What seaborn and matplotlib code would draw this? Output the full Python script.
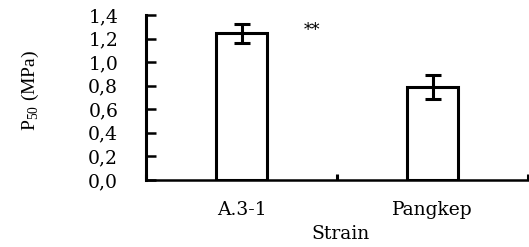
import matplotlib
matplotlib.use("Agg")
import matplotlib.pyplot as plt
import numpy as np
import pandas as pd
import seaborn as sns

# values
strains = ["A.3-1", "Pangkep"]
p50_mean = [1.245, 0.79]
p50_err = [0.082, 0.10]
y_ticks = [0.0, 0.2, 0.4, 0.6, 0.8, 1.0, 1.2, 1.4]
y_tick_labels = ["0,0", "0,2", "0,4", "0,6", "0,8", "1,0", "1,2", "1,4"]
signif = "**"

sns.set_theme(style="white", rc={"text.color": "black", "axes.labelcolor": "black",
                                 "xtick.color": "black", "ytick.color": "black"})
plt.rcParams["font.family"] = ["DejaVu Serif"]
plt.rcParams["mathtext.fontset"] = "custom"
plt.rcParams["mathtext.rm"] = "Liberation Serif"

df = pd.DataFrame({"Strain": strains, "P50": p50_mean})

fig = plt.figure(figsize=(5.29, 2.47), dpi=100)
ax = fig.add_axes([146 / 529, 1 - 180 / 247, 382 / 529, 165 / 247])

sns.barplot(data=df, x="Strain", y="P50", ax=ax, width=0.27,
            color="white", edgecolor="black", linewidth=2.2, errorbar=None)
ax.errorbar(np.arange(len(strains)), p50_mean, yerr=p50_err, fmt="none",
            ecolor="black", elinewidth=2.2, capsize=5.5, capthick=2.2)

ax.set_xlim(-0.5, len(strains) - 0.5)
ax.set_ylim(0, 1.4)
ax.set_yticks(y_ticks)
ax.set_yticklabels(y_tick_labels, fontsize=13.5)
ax.set_xticks(np.arange(len(strains)))
ax.set_xticklabels(strains, fontsize=13.5)
ax.tick_params(axis="x", length=0, pad=15)
ax.set_xticks(np.arange(-0.5, len(strains)), minor=True)
ax.tick_params(axis="x", which="minor", direction="in", length=4, width=2.2,
               color="black", bottom=True)
ax.tick_params(axis="y", direction="in", length=7.5, width=1.8, color="black",
               left=True, pad=20)

for side in ["top", "right"]:
    ax.spines[side].set_visible(False)
ax.spines["left"].set_linewidth(2.2)
ax.spines["bottom"].set_linewidth(1.8)
ax.spines["left"].set_color("black")
ax.spines["bottom"].set_color("black")

ax.set_xlabel("Strain", fontsize=13.5)
ax.xaxis.set_label_coords(0.51, -0.27)
ax.set_ylabel(r"$\mathrm{P}_{50}$ (MPa)", fontsize=14, family="Liberation Serif")
ax.yaxis.set_label_coords(-0.275, 0.545)
ax.text(0.37, 1.27, signif, fontsize=12, ha="center", va="center")

fig.savefig("out.png", dpi=100)
